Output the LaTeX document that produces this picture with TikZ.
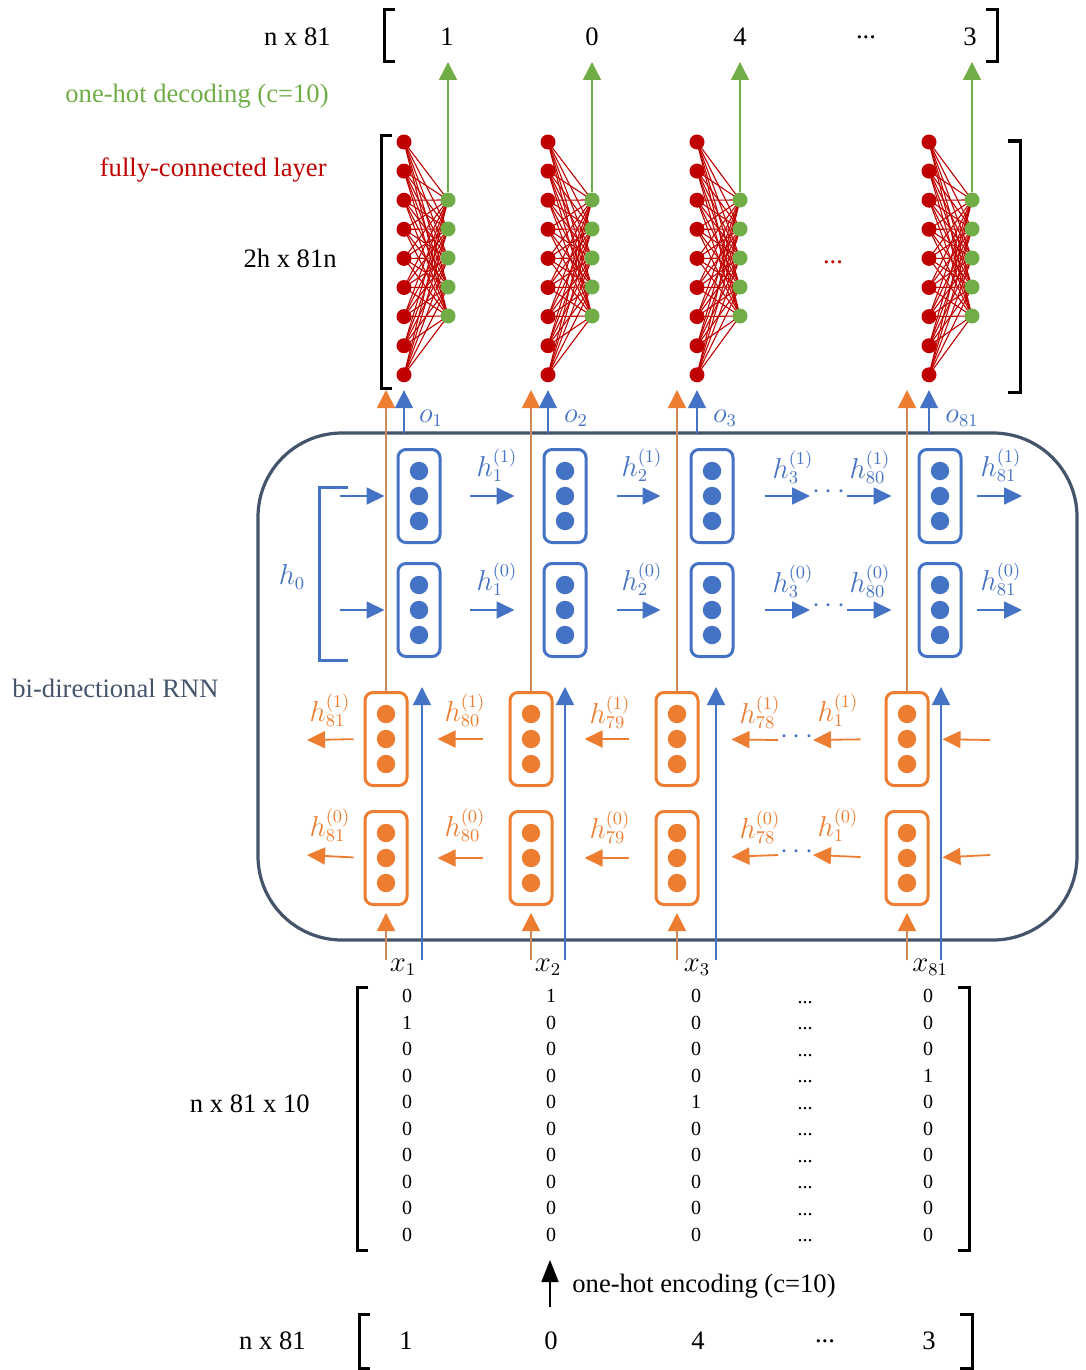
\documentclass[tikz,border=0pt]{standalone}
\usepackage{fontspec}
\setmainfont{Liberation Serif}
\usetikzlibrary{arrows.meta}
\definecolor{fcred}{HTML}{C00000}
\definecolor{fcgreen}{HTML}{70AD47}
\definecolor{rblue}{HTML}{4472C4}
\definecolor{rorange}{HTML}{ED7D31}
\definecolor{olin}{HTML}{CF8A5C}
\definecolor{slate}{HTML}{44546A}
\pgfdeclarelayer{background}
\pgfsetlayers{background,main}
\begin{document}
\begin{tikzpicture}[x=0.5pt,y=-0.5pt,
  lbl/.style={font=\fontsize{13.3}{15}\selectfont, inner sep=1pt},
  mat/.style={font=\fontsize{10}{12}\selectfont, inner sep=0pt},
  hl/.style={font=\fontsize{13.5}{15}\selectfont, inner sep=0pt},
  rn/.style={circle, fill=fcred, inner sep=0pt, minimum size=7.5pt},
  gn/.style={circle, fill=fcgreen, inner sep=0pt, minimum size=7.5pt},
  fcl/.style={fcred, line width=0.55pt},
  bkt/.style={black, line width=1.5pt},
  fbox/.style={draw=rblue, line width=1.5pt, rounded corners=4pt, minimum width=21pt, minimum height=46.5pt, inner sep=0pt},
  obox/.style={draw=rorange, line width=1.5pt, rounded corners=4pt, minimum width=21pt, minimum height=46.5pt, inner sep=0pt},
  barr/.style={rblue, line width=0.9pt, -{Triangle[width=8.5pt,length=9pt]}},
  oarr/.style={rorange, line width=0.9pt, -{Triangle[width=8.5pt,length=9pt]}},
  bvert/.style={rblue, line width=0.7pt, -{Triangle[width=9pt,length=9pt]}},
  overt/.style={olin, line width=0.8pt, -{Triangle[width=9pt,length=9pt,color=rorange]}},
  garr/.style={fcgreen, line width=0.7pt, -{Triangle[width=9pt,length=9pt]}},
]
\useasboundingbox (0,0) rectangle (1086,1370);

% ---------- top output ----------
\node[lbl, anchor=east] (topdim) at (333,37) {n x 81};
\draw[bkt] (395,10) -- (384,10) -- (384,62) -- (395,62);
\draw[bkt] (986,10) -- (997,10) -- (997,62) -- (986,62);
\node[lbl] (t1) at (447,37) {1};
\node[lbl] (t2) at (592,37) {0};
\node[lbl] (t3) at (740,37) {4};
\node[lbl] (tdots) at (866,37) {...};
\node[lbl] (t4) at (970,37) {3};

\node[lbl, anchor=east, text=fcgreen] (dec) at (331,96) {one-hot decoding (c=10)};
\node[lbl, anchor=east, text=fcred] (fcname) at (329,170) {fully-connected layer};
\node[lbl, anchor=east] (fcdim) at (339,258) {2h x 81n};
\node[lbl, text=fcred] (fcdots) at (833,262) {...};

\draw[bkt] (392,136) -- (381,136) -- (381,388) -- (392,388);
\draw[bkt] (1008,141) -- (1020,141) -- (1020,392) -- (1008,392);

% ---------- RNN frame ----------
\draw[slate, line width=1.6pt, rounded corners=42pt] (258,433) rectangle (1077,940);
\node[lbl, anchor=west, text=slate] (rnnname) at (10,688) {bi-directional RNN};

% ---------- columns ----------
\foreach \c/\rx/\gx/\ox/\bx/\jx in {1/404/448/386/419/422, 2/548/592/531/565/565, 3/697/740/677/712/716, 4/929/972/907/940/941} {
  \foreach \i in {0,...,8} \node[rn] (r\c-\i) at (\rx,{142+\i*29.1}) {};
  \foreach \j in {0,...,4} \node[gn] (g\c-\j) at (\gx,{200+\j*29}) {};
  \begin{pgfonlayer}{background}
    \foreach \i in {0,...,8} \foreach \j in {0,...,4} \draw[fcl] (r\c-\i.center) -- (g\c-\j.center);
  \end{pgfonlayer}
  \coordinate (ga\c) at (\gx,62);
  \draw[garr] (g\c-0) -- (ga\c);
  % boxes
  \node[fbox] (fa\c) at (\bx,496) {};
  \node[fbox] (fb\c) at (\bx,610) {};
  \node[obox] (ba\c) at (\ox,739) {};
  \node[obox] (bb\c) at (\ox,858) {};
  \foreach \d in {-25,0,25} {
    \fill[rblue] (\bx,{496+\d}) circle (4.6pt);
    \fill[rblue] (\bx,{610+\d}) circle (4.6pt);
    \fill[rorange] (\ox,{739+\d}) circle (4.6pt);
    \fill[rorange] (\ox,{858+\d}) circle (4.6pt);
  }
  % vertical connectors to the FC layer
  \coordinate (ot\c) at (\ox,390);
  \draw[overt] (ba\c.north) -- (ot\c);
  \coordinate (ob\c) at (\rx,433);
  \draw[bvert, shorten >=3.7pt] (ob\c) -- (r\c-8);
  % inputs
  \coordinate (xo\c) at (\ox,960);
  \coordinate (xb\c) at (\jx,960);
  \coordinate (xbt\c) at (\jx,687);
  \draw[overt, shorten >=3.5pt] (xo\c) -- (bb\c.south);
  \draw[bvert] (xb\c) -- (xbt\c);
}

% input labels
\node[hl] (xl1) at (403,967) {$x_{1}$};
\node[hl] (xl2) at (548,967) {$x_{2}$};
\node[hl] (xl3) at (697,967) {$x_{3}$};
\node[hl] (xl4) at (930,967) {$x_{81}$};

% output labels
\node[hl, text=rblue] (o1) at (431,418) {$o_{1}$};
\node[hl, text=rblue] (o2) at (576,418) {$o_{2}$};
\node[hl, text=rblue] (o3) at (725,418) {$o_{3}$};
\node[hl, text=rblue] (o4) at (962,418) {$o_{81}$};

% ---------- h0 bracket ----------
\draw[rblue, line width=1.5pt] (348,487) -- (319,487) -- (319,660) -- (348,660);
\node[hl, text=rblue] (h0) at (292,577) {$h_{0}$};
\coordinate (h0a) at (340,496);
\coordinate (h0b) at (340,610);
\draw[barr, shorten >=6pt] (h0a) -- (fa1.west);
\draw[barr, shorten >=6pt] (h0b) -- (fb1.west);

% ---------- forward arrows ----------
\foreach \r/\yy in {a/496, b/610} {
  \draw[barr, shorten <=14pt, shorten >=14pt] (f\r1.east) -- (f\r2.west);
  \draw[barr, shorten <=14.5pt, shorten >=14.5pt] (f\r2.east) -- (f\r3.west);
  \coordinate (fe\r1) at (810,\yy);
  \draw[barr, shorten <=15pt] (f\r3.east) -- (fe\r1);
  \coordinate (fs\r1) at (847,\yy);
  \draw[barr, shorten >=13pt] (fs\r1) -- (f\r4.west);
  \coordinate (fe\r2) at (1022,\yy);
  \draw[barr, shorten <=7pt] (f\r4.east) -- (fe\r2);
}
\node[hl, text=rblue] (fd1) at (829,492) {$\cdots$};
\node[hl, text=rblue] (fd2) at (829,606) {$\cdots$};

\node[hl, text=rblue] (hf11) at (497,465) {$h_{1}^{(1)}$};
\node[hl, text=rblue] (hf12) at (642,465) {$h_{2}^{(1)}$};
\node[hl, text=rblue] (hf13) at (793,467) {$h_{3}^{(1)}$};
\node[hl, text=rblue] (hf14) at (870,467) {$h_{80}^{(1)}$};
\node[hl, text=rblue] (hf15) at (1001,465) {$h_{81}^{(1)}$};
\node[hl, text=rblue] (hf01) at (497,579) {$h_{1}^{(0)}$};
\node[hl, text=rblue] (hf02) at (642,579) {$h_{2}^{(0)}$};
\node[hl, text=rblue] (hf03) at (793,581) {$h_{3}^{(0)}$};
\node[hl, text=rblue] (hf04) at (870,581) {$h_{80}^{(0)}$};
\node[hl, text=rblue] (hf05) at (1001,579) {$h_{81}^{(0)}$};

% ---------- backward arrows ----------
\foreach \r/\yy in {a/740, b/855} {
  \coordinate (bt\r1) at (307,\yy);
  \draw[oarr, shorten <=5pt] (b\r1.west) -- (bt\r1);
  \draw[oarr, shorten <=13pt, shorten >=14.5pt] (b\r2.west) -- (b\r1.east);
  \draw[oarr, shorten <=13pt, shorten >=15.5pt] (b\r3.west) -- (b\r2.east);
  \coordinate (bs\r1) at (778,\yy);
  \draw[oarr, shorten >=16pt] (bs\r1) -- (b\r3.east);
  \coordinate (bt\r2) at (813,\yy);
  \draw[oarr, shorten <=12pt] (b\r4.west) -- (bt\r2);
  \coordinate (bs\r2) at (990,\yy);
  \draw[oarr, shorten >=6.5pt] (bs\r2) -- (b\r4.east);
}
\node[hl, text=rblue] (bd1) at (797,737) {$\cdots$};
\node[hl, text=rblue] (bd2) at (797,852) {$\cdots$};

\node[hl, text=rorange] (hb11) at (330,710) {$h_{81}^{(1)}$};
\node[hl, text=rorange] (hb12) at (465,710) {$h_{80}^{(1)}$};
\node[hl, text=rorange] (hb13) at (610,712) {$h_{79}^{(1)}$};
\node[hl, text=rorange] (hb14) at (760,712) {$h_{78}^{(1)}$};
\node[hl, text=rorange] (hb15) at (838,710) {$h_{1}^{(1)}$};
\node[hl, text=rorange] (hb01) at (330,825) {$h_{81}^{(0)}$};
\node[hl, text=rorange] (hb02) at (465,825) {$h_{80}^{(0)}$};
\node[hl, text=rorange] (hb03) at (610,827) {$h_{79}^{(0)}$};
\node[hl, text=rorange] (hb04) at (760,827) {$h_{78}^{(0)}$};
\node[hl, text=rorange] (hb05) at (838,825) {$h_{1}^{(0)}$};

% ---------- one-hot matrix ----------
\node[lbl, anchor=east] (matdim) at (312,1104) {n x 81 x 10};
\draw[bkt] (368,987) -- (357,987) -- (357,1250) -- (368,1250);
\draw[bkt] (958,987) -- (969,987) -- (969,1250) -- (958,1250);
\foreach \v [count=\k from 0] in {0,1,0,0,0,0,0,0,0,0}
  \node[mat] (ma-\k) at (407,{996+\k*26.55}) {\v};
\foreach \v [count=\k from 0] in {1,0,0,0,0,0,0,0,0,0}
  \node[mat] (mb-\k) at (551,{996+\k*26.55}) {\v};
\foreach \v [count=\k from 0] in {0,0,0,0,1,0,0,0,0,0}
  \node[mat] (mc-\k) at (696,{996+\k*26.55}) {\v};
\foreach \k in {0,...,9}
  \node[mat, anchor=base] (md-\k) at (805,{1003+\k*26.55}) {...};
\foreach \v [count=\k from 0] in {0,0,0,1,0,0,0,0,0,0}
  \node[mat] (me-\k) at (928,{996+\k*26.55}) {\v};

% ---------- encoding arrow ----------
\coordinate (ea) at (550,1307);
\coordinate (eb) at (550,1260);
\draw[black, line width=0.9pt, -{Triangle[width=8.5pt,length=11pt]}] (ea) -- (eb);
\node[lbl, anchor=west] (enc) at (570,1286) {one-hot encoding (c=10)};

% ---------- bottom input ----------
\node[lbl, anchor=east] (botdim) at (308,1341) {n x 81};
\draw[bkt] (370,1314) -- (359,1314) -- (359,1368) -- (370,1368);
\draw[bkt] (960,1314) -- (972,1314) -- (972,1368) -- (960,1368);
\node[lbl] (b1) at (406,1341) {1};
\node[lbl] (b2) at (551,1341) {0};
\node[lbl] (b3) at (698,1341) {4};
\node[lbl] (bdots) at (825,1341) {...};
\node[lbl] (b4) at (929,1341) {3};
\end{tikzpicture}
\end{document}
